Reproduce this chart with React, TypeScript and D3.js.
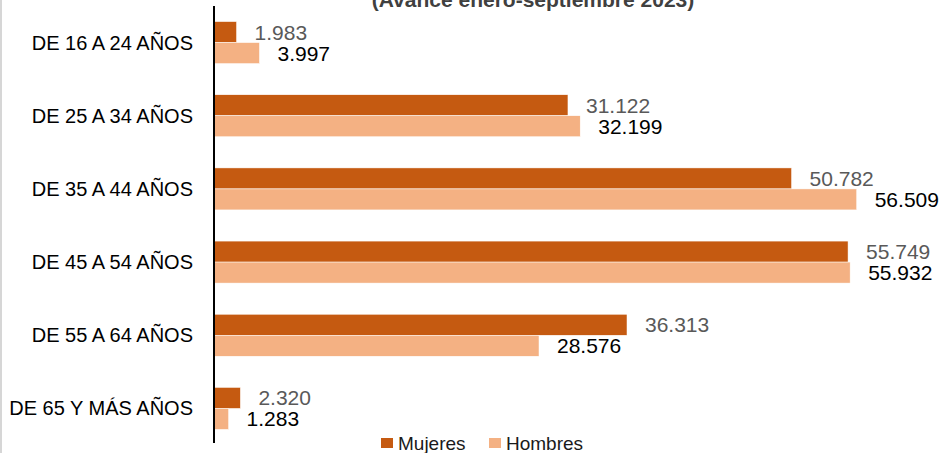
import React from "react";
import * as d3 from "d3";

const categories = [
  "DE 16 A 24 AÑOS",
  "DE 25 A 34 AÑOS",
  "DE 35 A 44 AÑOS",
  "DE 45 A 54 AÑOS",
  "DE 55 A 64 AÑOS",
  "DE 65 Y MÁS AÑOS",
];
const seriesNames = ["Mujeres", "Hombres"];
const mujeres = [1983, 31122, 50782, 55749, 36313, 2320];
const hombres = [3997, 32199, 56509, 55932, 28576, 1283];
const subtitle = "(Avance enero-septiembre 2023)";

const W = 940;
const H = 453;
const colors = ["#C55A11", "#F4B183"];
const labelColors = ["#595959", "#000000"];
const font = "'Liberation Sans', Arial, sans-serif";

const fmt = (v: number) => d3.format(",")(v).replace(/,/g, ".");

export default function App() {
  const x = d3.scaleLinear().domain([0, 60000]).range([214, 896.4]);
  const y = d3
    .scaleBand<string>()
    .domain(categories)
    .range([6, 445])
    .paddingInner(0.426)
    .paddingOuter(0.213);
  const sub = d3
    .scaleBand<string>()
    .domain(seriesNames)
    .range([0, y.bandwidth()]);
  const series = [mujeres, hombres];

  return (
    <svg
      width={W}
      height={H}
      style={{ position: "absolute", left: 0, top: 0, background: "#fff" }}
      fontFamily={font}
    >
      <rect x={0} y={0} width={W} height={H} fill="#fff" />
      <line x1={1} x2={1} y1={0} y2={H} stroke="#c8c8c8" strokeWidth={1.5} />
      <text
        x={533}
        y={6.5}
        textAnchor="middle"
        fontSize={21}
        fontWeight="bold"
        fill="#404040"
      >
        {subtitle}
      </text>

      {categories.map((c, i) => (
        <g key={c}>
          <text
            x={193}
            y={(y(c) as number) + y.bandwidth() / 2}
            dy="0.35em"
            textAnchor="end"
            fontSize={20}
            fill="#000"
          >
            {c}
          </text>
          {seriesNames.map((s, j) => {
            const v = series[j][i];
            const yy = (y(c) as number) + (sub(s) as number);
            return (
              <g key={s}>
                <rect
                  x={x(0)}
                  y={yy}
                  width={x(v) - x(0)}
                  height={sub.bandwidth()}
                  fill={colors[j]}
                  stroke="#fff"
                  strokeWidth={0.5}
                />
                <text
                  x={x(v) + 18}
                  y={yy + sub.bandwidth() / 2}
                  dy="0.36em"
                  fontSize={21}
                  fill={labelColors[j]}
                >
                  {fmt(v)}
                </text>
              </g>
            );
          })}
        </g>
      ))}

      <line x1={214} x2={214} y1={6} y2={443} stroke="#000" strokeWidth={2} />

      {seriesNames.map((s, j) => {
        const lx = [381, 489][j];
        return (
          <g key={s}>
            <rect x={lx} y={438} width={12} height={10} fill={colors[j]} />
            <text x={lx + 17} y={450} fontSize={19} fill="#1a1a1a">
              {s}
            </text>
          </g>
        );
      })}
    </svg>
  );
}
